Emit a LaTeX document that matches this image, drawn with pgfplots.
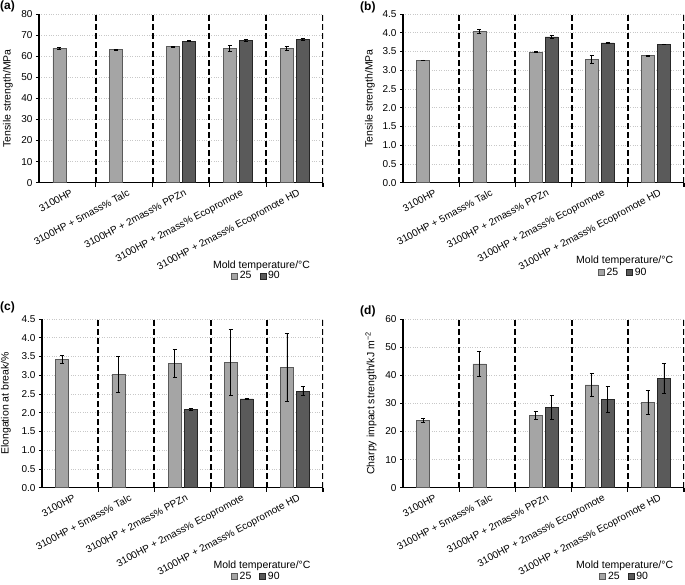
\documentclass[border=0pt]{standalone}
\usepackage{fontspec}
\setmainfont{Liberation Sans}
\usepackage{pgfplots}
\pgfplotsset{compat=1.18}
\usepackage{pgfplotstable}

\definecolor{lowT}{HTML}{A5A5A5}
\definecolor{lowTedge}{HTML}{5A5A5A}
\definecolor{highT}{HTML}{5A5A5A}
\definecolor{highTedge}{HTML}{262626}
\definecolor{gridgray}{HTML}{C8C8C8}

% columns: category index, mean, error
\pgfplotstableread{
x y e
0 63.8 0.5
1 63.1 0.3
2 64.5 0.3
3 63.7 1.5
4 63.7 0.8
}\tsA
\pgfplotstableread{
x y e
2 67.1 0.3
3 67.5 0.5
4 68.0 0.3
}\tsB
\pgfplotstableread{
x y e
0 3.27 0.005
1 4.03 0.05
2 3.49 0.01
3 3.29 0.11
4 3.39 0.01
}\tmA
\pgfplotstableread{
x y e
2 3.89 0.03
3 3.73 0.015
4 3.69 0.01
}\tmB
\pgfplotstableread{
x y e
0 3.42 0.10
1 3.02 0.48
2 3.31 0.37
3 3.34 0.88
4 3.21 0.90
}\elA
\pgfplotstableread{
x y e
2 2.09 0.03
3 2.37 0.02
4 2.57 0.12
}\elB
\pgfplotstableread{
x y e
0 24.0 0.8
1 44.0 4.4
2 25.7 1.4
3 36.6 4.0
4 30.2 4.3
}\chA
\pgfplotstableread{
x y e
2 28.6 4.3
3 31.4 4.6
4 38.9 5.2
}\chB

\tikzset{sep/.style={black, line width=1.9bp, dash pattern=on 5.5bp off 3.5bp}}

\pgfplotsset{
  panel/.style={
    scale only axis,
    anchor=south west,
    height=168.7bp,
    ybar=3bp,
    bar width=13bp,
    xmin=-0.5, xmax=4.5,
    ymin=0,
    axis lines*=left,
    axis line style={-, black, line width=1.3bp},
    tick align=outside,
    font=\fontsize{10bp}{12bp}\selectfont,
    /pgf/number format/assume math mode=true,
    ymajorgrids,
    major grid style={gridgray, dotted, line width=0.6bp},
    ytick style={black, line width=0.8bp},
    major tick length=3bp,
    xtick={0,...,4},
    xticklabels={3100HP, 3100HP + 5mass\% Talc, 3100HP + 2mass\% PPZn,
      3100HP + 2mass\% Ecopromote, 3100HP + 2mass\% Ecopromote HD},
    x tick style={draw=none},
    xticklabel style={rotate=28, anchor=north east, inner sep=1bp, yshift=-3bp, xshift=2bp},
    extra x ticks={0.5,1.5,2.5,3.5,4.5},
    extra x tick labels={},
    extra x tick style={x tick style={draw=black, line width=1.3bp}, major tick length=4bp},
    ylabel style={at={(axis description cs:0,0.5)}, anchor=center,
      font=\fontsize{10.5bp}{12bp}\selectfont},
    legend columns=2,
    legend style={draw=none, fill=none, inner sep=0pt, anchor=center,
      font=\fontsize{10.5bp}{12bp}\selectfont,
      /tikz/every even column/.append style={column sep=6bp}},
  },
  sq/.style={legend image code/.code={\draw[##1] (0bp,-3bp) rectangle (6bp,3bp);}},
  barA/.style={fill=lowT, draw=lowTedge, line width=0.6bp, sq,
    error bars/.cd, y dir=both, y explicit,
    error bar style={black, line width=0.8bp},
    error mark options={rotate=90, mark size=2bp, black, line width=0.8bp}},
  barB/.style={fill=highT, draw=highTedge, line width=0.6bp, sq,
    error bars/.cd, y dir=both, y explicit,
    error bar style={black, line width=0.8bp},
    error mark options={rotate=90, mark size=2bp, black, line width=0.8bp}},
}

\begin{document}
\begin{tikzpicture}
\useasboundingbox (0,0) rectangle (685bp,-585bp);

% (a)
\begin{axis}[panel, at={(39bp,-182.7bp)}, width=284bp,
    ymax=80, ytick={0,10,...,80},
    ylabel={Tensile strength/MPa}, ylabel style={yshift=31bp},
    legend style={at={(0.766,-0.553)}}]
  \foreach \s in {0.5,1.5,...,4.5} {\edef\tmp{\noexpand\draw[sep] (\s,0) -- (\s,80);}\tmp}
  \addplot[barA] table[x=x, y=y, y error=e] {\tsA};
  \addplot[barB] table[x=x, y=y, y error=e] {\tsB};
  \legend{25,90}
\end{axis}

% (b)
\begin{axis}[panel, at={(403bp,-182.7bp)}, width=281bp,
    ymax=4.5, ytick={0,0.5,...,4.5},
    yticklabel style={/pgf/number format/.cd, fixed, fixed zerofill, precision=1},
    ylabel={Tensile strength/MPa}, ylabel style={yshift=33bp},
    legend style={at={(0.784,-0.533)}}]
  \foreach \s in {0.5,1.5,...,4.5} {\edef\tmp{\noexpand\draw[sep] (\s,0) -- (\s,4.5);}\tmp}
  \addplot[barA] table[x=x, y=y, y error=e] {\tmA};
  \addplot[barB] table[x=x, y=y, y error=e] {\tmB};
  \legend{25,90}
\end{axis}

% (c)
\begin{axis}[panel, at={(42bp,-487.7bp)}, width=281bp,
    ymax=4.5, ytick={0,0.5,...,4.5},
    yticklabel style={/pgf/number format/.cd, fixed, fixed zerofill, precision=1},
    ylabel={Elongation at break/\%}, ylabel style={yshift=36bp},
    legend style={at={(0.763,-0.528)}}]
  \foreach \s in {0.5,1.5,...,4.5} {\edef\tmp{\noexpand\draw[sep] (\s,0) -- (\s,4.5);}\tmp}
  \addplot[barA] table[x=x, y=y, y error=e] {\elA};
  \addplot[barB] table[x=x, y=y, y error=e] {\elB};
  \legend{25,90}
\end{axis}

% (d)
\begin{axis}[panel, at={(403bp,-487.7bp)}, width=281bp,
    ymax=60, ytick={0,10,...,60},
    ylabel={Charpy impact strength/kJ m\textsuperscript{−2}}, ylabel style={yshift=32bp},
    legend style={at={(0.789,-0.528)}}]
  \foreach \s in {0.5,1.5,...,4.5} {\edef\tmp{\noexpand\draw[sep] (\s,0) -- (\s,60);}\tmp}
  \addplot[barA] table[x=x, y=y, y error=e] {\chA};
  \addplot[barB] table[x=x, y=y, y error=e] {\chB};
  \legend{25,90}
\end{axis}

% panel letters and legend titles
\begin{scope}[every node/.style={inner sep=0pt}]
  \node[anchor=north west, font=\bfseries\fontsize{12bp}{14bp}\selectfont] at (0bp,-1bp) {(a)};
  \node[anchor=north west, font=\bfseries\fontsize{12bp}{14bp}\selectfont] at (360bp,-2bp) {(b)};
  \node[anchor=north west, font=\bfseries\fontsize{12bp}{14bp}\selectfont] at (0bp,-302bp) {(c)};
  \node[anchor=north west, font=\bfseries\fontsize{12bp}{14bp}\selectfont] at (360bp,-306bp) {(d)};
  \node[font=\fontsize{10.5bp}{12bp}\selectfont] at (261.5bp,-266bp) {Mold temperature/°C};
  \node[font=\fontsize{10.5bp}{12bp}\selectfont] at (624.7bp,-261bp) {Mold temperature/°C};
  \node[font=\fontsize{10.5bp}{12bp}\selectfont] at (262bp,-565.5bp) {Mold temperature/°C};
  \node[font=\fontsize{10.5bp}{12bp}\selectfont] at (624.7bp,-566bp) {Mold temperature/°C};
\end{scope}
\end{tikzpicture}
\end{document}
